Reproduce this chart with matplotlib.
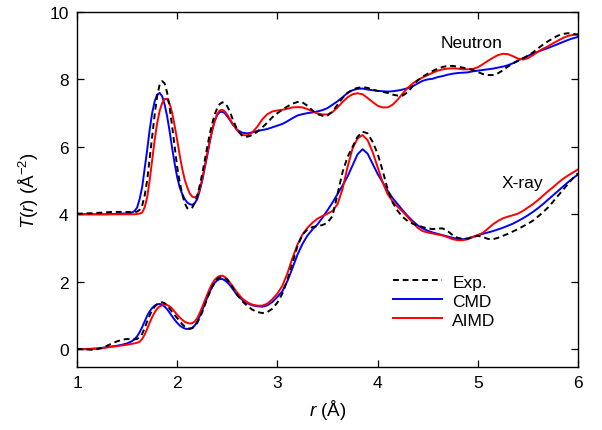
import numpy as np
import matplotlib
matplotlib.use("Agg")
import matplotlib.pyplot as plt

plt.rcParams['font.family'] = ['Liberation Sans', 'DejaVu Sans']
plt.rcParams['mathtext.fontset'] = 'custom'
plt.rcParams['mathtext.rm'] = 'Liberation Sans'
plt.rcParams['mathtext.it'] = 'Liberation Sans:italic'

# coarse grid readings (every 0.05 Å)
r = np.round(np.arange(1.0, 6.0001, 0.05), 3)

neutron_exp = [
    4.02, 4.02, 4.03, 4.03, 4.04, 4.05, 4.06, 4.07, 4.07, 4.07,
    4.07, 4.06, 4.08, 4.25, 5.00, 6.30, 7.50, 7.95, 7.60, 6.60,
    5.40, 4.60, 4.18, 4.20, 4.55, 5.20, 6.00, 6.70, 7.15, 7.32,
    7.20, 6.85, 6.50, 6.32, 6.30, 6.35, 6.45, 6.58, 6.72, 6.88,
    7.00, 7.10, 7.20, 7.28, 7.33, 7.32, 7.22, 7.08, 6.97, 6.92,
    6.93, 7.05, 7.25, 7.45, 7.60, 7.70, 7.75, 7.77, 7.75, 7.70,
    7.66, 7.63, 7.60, 7.55, 7.52, 7.52, 7.62, 7.80, 7.97, 8.08,
    8.17, 8.25, 8.32, 8.37, 8.40, 8.40, 8.38, 8.35, 8.32, 8.28,
    8.22, 8.16, 8.13, 8.13, 8.18, 8.27, 8.38, 8.47, 8.55, 8.62,
    8.70, 8.80, 8.92, 9.03, 9.13, 9.22, 9.30, 9.35, 9.37, 9.35,
    9.33]

neutron_cmd = [
    4.00, 4.00, 4.00, 4.00, 4.00, 4.00, 4.00, 4.01, 4.01, 4.02,
    4.03, 4.05, 4.20, 4.80, 5.90, 7.00, 7.55, 7.50, 6.90, 5.95,
    5.10, 4.60, 4.35, 4.28, 4.45, 5.00, 5.75, 6.50, 6.95, 7.04,
    6.90, 6.68, 6.50, 6.42, 6.40, 6.43, 6.47, 6.50, 6.53, 6.58,
    6.63, 6.68, 6.76, 6.85, 6.93, 6.97, 7.00, 7.02, 7.05, 7.09,
    7.15, 7.25, 7.35, 7.47, 7.60, 7.68, 7.72, 7.73, 7.70, 7.68,
    7.66, 7.65, 7.64, 7.65, 7.67, 7.70, 7.74, 7.80, 7.88, 7.96,
    8.00, 8.02, 8.07, 8.10, 8.14, 8.17, 8.19, 8.20, 8.21, 8.24,
    8.26, 8.28, 8.30, 8.32, 8.35, 8.38, 8.42, 8.48, 8.56, 8.63,
    8.70, 8.76, 8.82, 8.88, 8.93, 8.99, 9.05, 9.11, 9.17, 9.22,
    9.26]

neutron_aimd = [
    4.00, 4.00, 4.00, 4.00, 4.00, 4.00, 4.00, 4.00, 4.00, 4.00,
    4.00, 4.00, 4.01, 4.05, 4.50, 5.60, 6.70, 7.30, 7.42, 7.00,
    6.20, 5.35, 4.80, 4.52, 4.55, 5.05, 5.80, 6.50, 6.98, 7.10,
    6.95, 6.70, 6.48, 6.35, 6.34, 6.43, 6.60, 6.82, 6.97, 7.05,
    7.08, 7.10, 7.13, 7.17, 7.18, 7.17, 7.12, 7.05, 6.99, 6.96,
    6.96, 7.03, 7.17, 7.33, 7.47, 7.56, 7.59, 7.56, 7.45, 7.33,
    7.22, 7.17, 7.17, 7.25, 7.40, 7.58, 7.75, 7.88, 7.98, 8.06,
    8.13, 8.20, 8.26, 8.30, 8.32, 8.33, 8.32, 8.30, 8.30, 8.31,
    8.36, 8.45, 8.55, 8.64, 8.72, 8.76, 8.75, 8.69, 8.62, 8.59,
    8.63, 8.72, 8.82, 8.91, 8.98, 9.07, 9.15, 9.23, 9.29, 9.32,
    9.33]

xray_exp = [
    0.00, 0.00, -0.01, -0.02, 0.00, 0.03, 0.10, 0.17, 0.23, 0.28,
    0.30, 0.29, 0.30, 0.45, 0.82, 1.15, 1.33, 1.39, 1.30, 1.10,
    0.92, 0.74, 0.63, 0.62, 0.78, 1.10, 1.50, 1.85, 2.08, 2.14,
    2.05, 1.85, 1.60, 1.42, 1.28, 1.17, 1.10, 1.07, 1.10, 1.20,
    1.38, 1.65, 2.05, 2.55, 3.05, 3.40, 3.55, 3.62, 3.65, 3.68,
    3.75, 3.95, 4.60, 5.25, 5.70, 6.00, 6.30, 6.45, 6.40, 6.15,
    5.80, 5.30, 4.75, 4.35, 4.10, 3.92, 3.80, 3.72, 3.67, 3.62,
    3.58, 3.56, 3.58, 3.58, 3.50, 3.38, 3.30, 3.27, 3.28, 3.33,
    3.36, 3.33, 3.27, 3.26, 3.30, 3.36, 3.42, 3.49, 3.56, 3.64,
    3.72, 3.81, 3.93, 4.06, 4.20, 4.37, 4.55, 4.72, 4.90, 5.07,
    5.22]

xray_cmd = [
    0.00, 0.00, 0.00, 0.01, 0.02, 0.04, 0.06, 0.08, 0.10, 0.13,
    0.17, 0.24, 0.38, 0.65, 0.99, 1.22, 1.33, 1.32, 1.18, 0.97,
    0.78, 0.65, 0.60, 0.63, 0.82, 1.15, 1.53, 1.85, 2.04, 2.08,
    1.98, 1.80, 1.60, 1.46, 1.36, 1.30, 1.27, 1.26, 1.30, 1.40,
    1.55, 1.72, 2.02, 2.40, 2.80, 3.12, 3.37, 3.55, 3.70, 3.90,
    4.12, 4.35, 4.60, 4.85, 5.12, 5.45, 5.78, 5.93, 5.80, 5.50,
    5.20, 4.95, 4.70, 4.48, 4.30, 4.12, 3.95, 3.80, 3.67, 3.58,
    3.51, 3.46, 3.42, 3.38, 3.34, 3.30, 3.27, 3.26, 3.28, 3.33,
    3.38, 3.42, 3.46, 3.50, 3.55, 3.60, 3.66, 3.72, 3.80, 3.88,
    3.97, 4.07, 4.18, 4.30, 4.43, 4.56, 4.69, 4.82, 4.95, 5.07,
    5.18]

xray_aimd = [
    0.00, 0.00, 0.00, 0.01, 0.02, 0.03, 0.05, 0.07, 0.09, 0.11,
    0.13, 0.16, 0.19, 0.30, 0.60, 0.95, 1.20, 1.30, 1.31, 1.20,
    1.02, 0.87, 0.78, 0.77, 0.92, 1.25, 1.62, 1.95, 2.13, 2.18,
    2.08, 1.88, 1.67, 1.50, 1.39, 1.32, 1.29, 1.29, 1.35, 1.48,
    1.65, 1.88, 2.25, 2.70, 3.10, 3.40, 3.60, 3.75, 3.87, 3.95,
    4.02, 4.10, 4.30, 4.75, 5.40, 5.95, 6.25, 6.35, 6.20, 5.85,
    5.40, 4.95, 4.60, 4.38, 4.22, 4.08, 3.92, 3.75, 3.60, 3.50,
    3.46, 3.43, 3.40, 3.37, 3.32, 3.26, 3.23, 3.23, 3.26, 3.32,
    3.38, 3.45, 3.57, 3.70, 3.80, 3.88, 3.93, 3.97, 4.02, 4.10,
    4.20, 4.30, 4.42, 4.55, 4.68, 4.80, 4.93, 5.05, 5.15, 5.24,
    5.33]

# extra readings between grid points over the sharp first two peaks
r_fine = np.round(np.arange(1.575, 2.53, 0.05), 3)

neutron_exp_fine = [4.06, 4.13, 4.55, 5.65, 6.95, 7.85, 7.88, 7.15, 6.00, 4.95,
                    4.33, 4.15, 4.33, 4.85, 5.60, 6.38, 6.97, 7.27, 7.30, 7.05]
neutron_cmd_fine = [4.10, 4.45, 5.35, 6.50, 7.35, 7.60, 7.25, 6.45, 5.50, 4.80,
                    4.45, 4.30, 4.33, 4.70, 5.38, 6.15, 6.77, 7.03, 7.00, 6.80]
neutron_aimd_fine = [4.00, 4.02, 4.20, 5.00, 6.20, 7.07, 7.42, 7.28, 6.62, 5.75,
                     5.03, 4.62, 4.50, 4.75, 5.42, 6.17, 6.78, 7.08, 7.05, 6.83]
xray_exp_fine = [0.29, 0.36, 0.62, 1.00, 1.26, 1.37, 1.36, 1.20, 1.01, 0.83,
                 0.67, 0.61, 0.68, 0.93, 1.30, 1.69, 1.98, 2.13, 2.11, 1.96]
xray_cmd_fine = [0.30, 0.50, 0.82, 1.12, 1.29, 1.34, 1.26, 1.08, 0.87, 0.70,
                 0.61, 0.60, 0.70, 0.98, 1.35, 1.70, 1.97, 2.08, 2.04, 1.90]
xray_aimd_fine = [0.17, 0.22, 0.43, 0.78, 1.09, 1.27, 1.32, 1.27, 1.11, 0.94,
                  0.81, 0.76, 0.82, 1.07, 1.44, 1.80, 2.06, 2.17, 2.14, 1.98]

x_ticks = [1, 2, 3, 4, 5, 6]
y_ticks = [0, 2, 4, 6, 8, 10]


def merged(coarse, fine):
    x = np.concatenate([r, r_fine])
    y = np.concatenate([np.asarray(coarse, float), np.asarray(fine, float)])
    idx = np.argsort(x, kind='stable')
    return x[idx], y[idx]


fig = plt.figure(figsize=(6.02, 4.31), dpi=100)
ax = fig.add_axes([77/602, 1 - 368/431, 501/602, 355/431])

lw = 1.4
dash = (0, (3, 2))
ax.plot(*merged(neutron_cmd, neutron_cmd_fine), color='#0000ff', lw=lw, label='CMD')
ax.plot(*merged(neutron_aimd, neutron_aimd_fine), color='#ff0000', lw=lw, label='AIMD')
ax.plot(*merged(neutron_exp, neutron_exp_fine), color='black', lw=lw, ls=dash, label='Exp.')
ax.plot(*merged(xray_cmd, xray_cmd_fine), color='#0000ff', lw=lw)
ax.plot(*merged(xray_aimd, xray_aimd_fine), color='#ff0000', lw=lw)
ax.plot(*merged(xray_exp, xray_exp_fine), color='black', lw=lw, ls=dash)

ax.set_xlim(1, 6)
ax.set_ylim(-0.53, 10)
ax.set_xticks(x_ticks)
ax.set_yticks(y_ticks)
ax.tick_params(direction='in', top=True, right=True, length=5, width=0.9,
               labelsize=12.5, pad=6)
for s in ax.spines.values():
    s.set_linewidth(1.0)

ax.set_xlabel(r'$r$ (Å)', fontsize=13.5, labelpad=5)
ax.set_ylabel(r'$T$($r$) (Å$^{-2}$)', fontsize=13.5, labelpad=6)

ax.text(4.94, 9.1, 'Neutron', fontsize=12.5, ha='center', va='center')
ax.text(5.45, 4.95, 'X-ray', fontsize=12.5, ha='center', va='center')

handles, labels = ax.get_legend_handles_labels()
order = [2, 0, 1]
ax.legend([handles[i] for i in order], [labels[i] for i in order],
          loc='center left', bbox_to_anchor=(0.631, 0.186), frameon=False,
          fontsize=12.5, handlelength=2.8, handletextpad=0.6,
          labelspacing=0.22, borderpad=0, borderaxespad=0)

fig.savefig('out.png', dpi=100)
